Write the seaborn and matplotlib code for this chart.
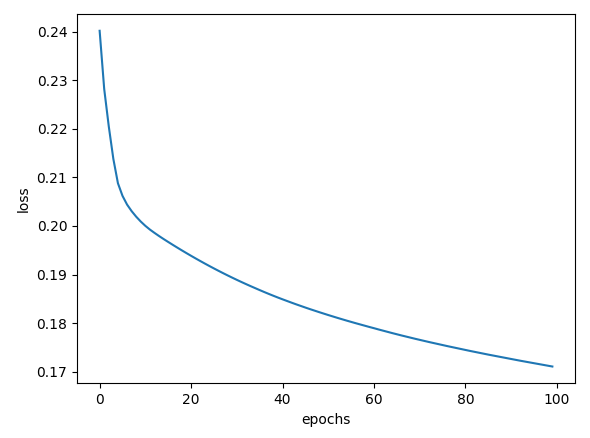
import matplotlib
matplotlib.use("Agg")
import matplotlib.pyplot as plt
import seaborn as sns
import pandas as pd

epochs = list(range(100))
loss = [
    0.24020, 0.22820, 0.22050, 0.21380, 0.20880, 0.20620, 0.20440, 0.20305, 0.20190, 0.20090,
    0.20002, 0.19925, 0.19857, 0.19792, 0.19730, 0.19670, 0.19611, 0.19553, 0.19496, 0.19440,
    0.19385, 0.19331, 0.19278, 0.19226, 0.19175, 0.19125, 0.19076, 0.19028, 0.18981, 0.18935,
    0.18890, 0.18846, 0.18803, 0.18761, 0.18720, 0.18679, 0.18639, 0.18600, 0.18562, 0.18525,
    0.18489, 0.18454, 0.18419, 0.18385, 0.18352, 0.18319, 0.18287, 0.18256, 0.18225, 0.18195,
    0.18165, 0.18136, 0.18107, 0.18079, 0.18051, 0.18024, 0.17997, 0.17971, 0.17945, 0.17919,
    0.17894, 0.17868, 0.17843, 0.17818, 0.17793, 0.17769, 0.17745, 0.17722, 0.17699, 0.17676,
    0.17654, 0.17632, 0.17610, 0.17589, 0.17568, 0.17547, 0.17526, 0.17506, 0.17486, 0.17466,
    0.17446, 0.17426, 0.17407, 0.17388, 0.17369, 0.17350, 0.17332, 0.17314, 0.17296, 0.17278,
    0.17260, 0.17242, 0.17224, 0.17207, 0.17190, 0.17173, 0.17156, 0.17139, 0.17122, 0.17105,
]
x_label = "epochs"
y_label = "loss"

df = pd.DataFrame({"epochs": epochs, "loss": loss})

fig = plt.figure(figsize=(5.9, 4.38), dpi=100)
ax = fig.add_axes([77 / 590, (438 - 383.3) / 438, (575 - 77) / 590, (383.3 - 14) / 438])
sns.lineplot(data=df, x="epochs", y="loss", ax=ax, color="#1f77b4", linewidth=1.5)
ax.set_xlabel(x_label)
ax.set_ylabel(y_label)
ax.set_xticks([0, 20, 40, 60, 80, 100])
ax.set_yticks([0.17, 0.18, 0.19, 0.20, 0.21, 0.22, 0.23, 0.24])
ax.set_yticklabels(["0.17", "0.18", "0.19", "0.20", "0.21", "0.22", "0.23", "0.24"])
fig.savefig("out.png", dpi=100)
